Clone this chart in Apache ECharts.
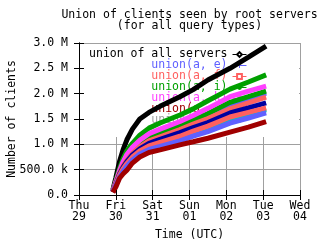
<!DOCTYPE html>
<html><head><meta charset="utf-8">
<script src="https://cdn.jsdelivr.net/npm/echarts@6/dist/echarts.min.js"></script>
<style>html,body{margin:0;padding:0;background:#fff}#c{width:320px;height:240px}</style>
</head><body><div id="c"></div>
<script>
// x = days since Thu 29 00:00 UTC, values in millions of clients
const days = [0.92, 1.0, 1.1, 1.2, 1.3, 1.45, 1.65, 1.9, 2.2, 2.74, 3.1, 3.5, 4.1, 4.6, 5.08];
const xTickLabels = ['Thu\n29','Fri\n30','Sat\n31','Sun\n01','Mon\n02','Tue\n03','Wed\n04'];
const yTickLabels = ['0.0','500.0 k','1.0 M','1.5 M','2.0 M','2.5 M','3.0 M'];

const allServers = [0.10, 0.34, 0.66, 0.90, 1.09, 1.30, 1.50, 1.63, 1.75, 1.94, 2.08, 2.27, 2.50, 2.72, 2.94];
const unionAI    = [0.08, 0.28, 0.52, 0.72, 0.87, 1.02, 1.18, 1.32, 1.42, 1.58, 1.70, 1.86, 2.09, 2.23, 2.37];
const unionAK    = [0.08, 0.26, 0.48, 0.66, 0.80, 0.94, 1.08, 1.21, 1.30, 1.45, 1.57, 1.71, 1.94, 2.05, 2.15];
const unionGreen2= [0.07, 0.25, 0.46, 0.63, 0.76, 0.89, 1.02, 1.14, 1.23, 1.37, 1.48, 1.61, 1.83, 1.94, 2.05];
const unionAE    = [0.07, 0.24, 0.45, 0.61, 0.73, 0.86, 0.99, 1.11, 1.20, 1.34, 1.45, 1.57, 1.79, 1.90, 2.01];
const unionAF    = [0.07, 0.23, 0.43, 0.58, 0.69, 0.82, 0.95, 1.07, 1.15, 1.29, 1.40, 1.51, 1.70, 1.82, 1.93];
const unionNavy  = [0.06, 0.22, 0.41, 0.55, 0.66, 0.79, 0.91, 1.02, 1.10, 1.23, 1.33, 1.43, 1.62, 1.72, 1.82];
const unionRed2  = [0.06, 0.21, 0.39, 0.52, 0.62, 0.75, 0.87, 0.97, 1.04, 1.16, 1.26, 1.36, 1.54, 1.63, 1.72];
const unionGray  = [0.06, 0.21, 0.38, 0.51, 0.61, 0.74, 0.86, 0.95, 1.02, 1.14, 1.24, 1.34, 1.51, 1.61, 1.70];
const unionCyan  = [0.06, 0.20, 0.37, 0.50, 0.60, 0.72, 0.84, 0.93, 1.00, 1.12, 1.22, 1.31, 1.48, 1.59, 1.68];
const unionBlue2 = [0.06, 0.19, 0.35, 0.47, 0.57, 0.69, 0.81, 0.90, 0.96, 1.07, 1.16, 1.25, 1.42, 1.52, 1.62];
const unionAJ    = [0.05, 0.16, 0.33, 0.42, 0.49, 0.63, 0.75, 0.84, 0.89, 0.99, 1.05, 1.12, 1.24, 1.34, 1.45];

const FONT = 'DejaVu Sans Mono';
const FS = 11.5;

function mk(name, vals, color, symbol) {
  return {
    type: 'line', name: name,
    data: days.map((d, i) => [d, vals[i]]),
    xAxisIndex: 0, yAxisIndex: 0,
    symbol: symbol || 'none', showSymbol: false, symbolSize: 6,
    lineStyle: { color: color, width: 5 },
    itemStyle: { color: color },
    z: 3, silent: true, animation: false
  };
}

const series = [
  mk('union(a, m)', unionGray, '#a0a0a0'),
  mk('union(a, e)', unionAE, '#6060ff', 'path://M4,0H6V4H10V6H6V10H4V6H0V4H4Z'),
  mk('union(a, e, f)', unionGreen2, '#00a000'),
  mk('union(a, e, k)', unionCyan, '#00c0c0'),
  mk('union of all servers', allServers, '#000000', 'emptyDiamond'),
  mk('union(a, i)', unionAI, '#00a000'),
  mk('union(a, k)', unionAK, '#ff40ff'),
  mk('union(a, f)', unionAF, '#ff6060', 'emptyRect'),
  mk('union(a, e, i)', unionNavy, '#0000a0'),
  mk('union(a, f, i)', unionRed2, '#ff6060'),
  mk('union(a, e, m)', unionBlue2, '#6060ff'),
  mk('union(a, j)', unionAJ, '#a00000')
];

const legendItems = [
  ['union of all servers', '#000000'],
  ['union(a, e)', '#6060ff'],
  ['union(a, f)', '#ff6060'],
  ['union(a, i)', '#00a000'],
  ['union(a, k)', '#ff40ff'],
  ['union(a, j)', '#a00000'],
  ['union(a, m)', '#a0a0a0']
];

const legends = legendItems.map((it, i) => ({
  data: [it[0]], orient: 'vertical', align: 'right',
  right: 73, top: 48.5 + 11 * i,
  itemWidth: 14, itemHeight: 6, itemGap: 0, padding: 0, z: 2,
  selectedMode: false,
  lineStyle: { width: 1 },
  textStyle: { color: it[1], fontFamily: FONT, fontSize: FS, lineHeight: 11 }
}));

const axisBase = { type: 'value', min: 0, max: 6, interval: 1 };
const blackLine = { show: true, lineStyle: { color: '#000', width: 1 } };
const tick = { show: true, inside: true, length: 5, lineStyle: { color: '#000' } };

const chart = echarts.init(document.getElementById('c'), null, { renderer: 'canvas' });
chart.setOption({
  animation: false,
  backgroundColor: '#fff',
  title: {
    text: 'Union of clients seen by root servers\n(for all query types)',
    left: 189.5, top: 10, textAlign: 'center', padding: 0,
    textStyle: { fontFamily: FONT, fontSize: FS, fontWeight: 'normal', color: '#000', lineHeight: 11 }
  },
  grid: { left: 79, right: 20, top: 43, bottom: 45, outerBoundsMode: 'none', containLabel: false },
  graphic: [{ type: 'rect', shape: { x: 80, y: 44, width: 219, height: 93 }, style: { fill: '#fff' }, z: 1, silent: true }],
  legend: legends,
  xAxis: [
    Object.assign({}, axisBase, {
      position: 'bottom', z: 5,
      axisLine: blackLine, axisTick: tick, splitLine: { show: false },
      axisLabel: { formatter: v => xTickLabels[Math.round(v)], fontFamily: FONT, fontSize: FS, color: '#000', lineHeight: 11, margin: 6 },
      name: 'Time (UTC)', nameLocation: 'middle', nameGap: 34,
      nameTextStyle: { fontFamily: FONT, fontSize: FS, color: '#000' }
    }),
    Object.assign({}, axisBase, {
      position: 'top', z: 5,
      axisLine: blackLine, axisTick: tick, splitLine: { show: false }, axisLabel: { show: false }
    }),
    Object.assign({}, axisBase, {
      position: 'bottom', z: 0,
      axisLine: { show: false }, axisTick: { show: false }, axisLabel: { show: false },
      splitLine: { show: true, lineStyle: { color: '#a0a0a0', width: 1 } }
    })
  ],
  yAxis: [
    {
      type: 'value', min: 0, max: 3, interval: 0.5, position: 'left', z: 5,
      axisLine: blackLine, axisTick: tick, splitLine: { show: false },
      axisLabel: { formatter: v => yTickLabels[Math.round(v * 2)], fontFamily: FONT, fontSize: FS, color: '#000', margin: 11 },
      name: 'Number of clients', nameLocation: 'middle', nameGap: 61, nameRotate: 90,
      nameMoveOverlap: false,
      nameTextStyle: { fontFamily: FONT, fontSize: FS, color: '#000' }
    },
    {
      type: 'value', min: 0, max: 3, interval: 0.5, position: 'right', z: 5,
      axisLine: blackLine, axisTick: tick, splitLine: { show: false }, axisLabel: { show: false }
    },
    {
      type: 'value', min: 0, max: 3, interval: 0.5, position: 'left', z: 0,
      axisLine: { show: false }, axisTick: { show: false }, axisLabel: { show: false },
      splitLine: { show: true, lineStyle: { color: '#a0a0a0', width: 1 } }
    }
  ],
  series: series
});
</script>
</body></html>
